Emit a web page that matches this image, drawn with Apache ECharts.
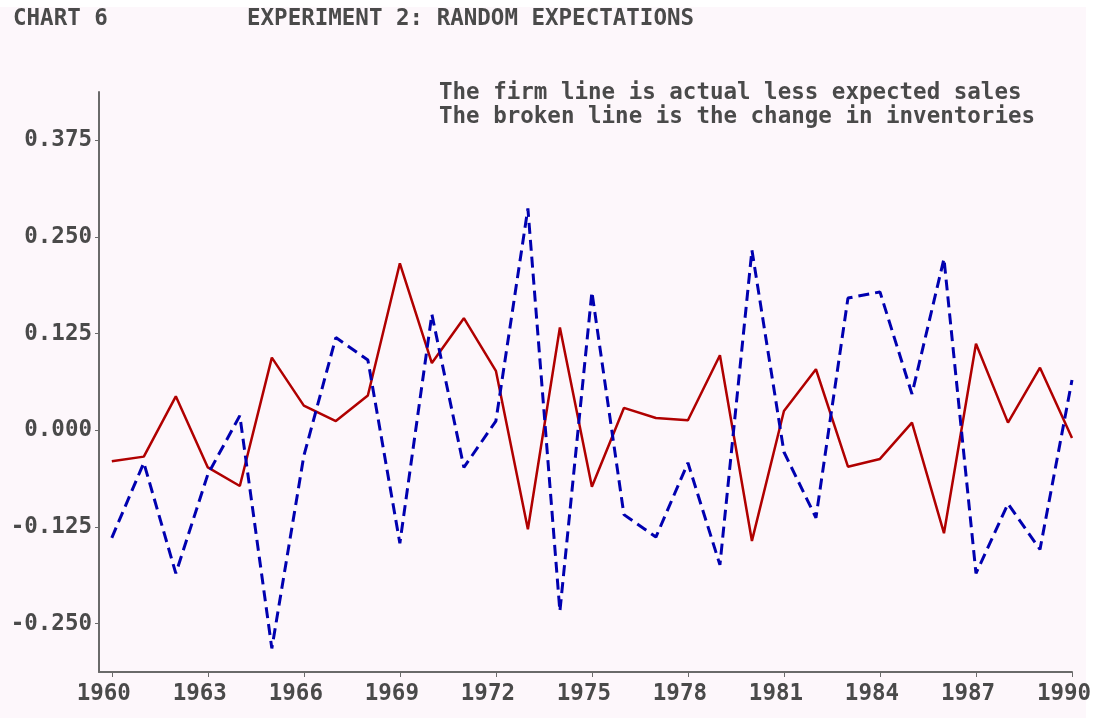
<!DOCTYPE html>
<html>
<head>
<meta charset="utf-8">
<script src="https://cdn.jsdelivr.net/npm/echarts@6/dist/echarts.min.js"></script>
<style>
  html, body { margin: 0; padding: 0; background: #ffffff; }
  #chart { width: 1098px; height: 720px; }
</style>
</head>
<body>
<div id="chart"></div>
<script>
  // years 1960..1990
  var years = [1960, 1961, 1962, 1963, 1964, 1965, 1966, 1967, 1968, 1969,
    1970, 1971, 1972, 1973, 1974, 1975, 1976, 1977, 1978, 1979,
    1980, 1981, 1982, 1983, 1984, 1985, 1986, 1987, 1988, 1989, 1990];

  // firm line: actual less expected sales
  var firmLine = [-0.040, -0.034, 0.044, -0.048, -0.072, 0.094, 0.032, 0.012, 0.045, 0.216,
    0.087, 0.145, 0.077, -0.128, 0.133, -0.073, 0.029, 0.016, 0.013, 0.097,
    -0.143, 0.025, 0.079, -0.047, -0.037, 0.010, -0.133, 0.112, 0.010, 0.081, -0.010];

  // broken line: change in inventories
  var brokenLine = [-0.139, -0.042, -0.185, -0.057, 0.019, -0.282, -0.033, 0.120, 0.091, -0.146,
    0.150, -0.048, 0.012, 0.287, -0.234, 0.179, -0.109, -0.138, -0.042, -0.174,
    0.233, -0.028, -0.113, 0.171, 0.179, 0.047, 0.222, -0.185, -0.095, -0.154, 0.065];

  var xTicks = [1960, 1963, 1966, 1969, 1972, 1975, 1978, 1981, 1984, 1987, 1990];
  var yTicks = [-0.25, -0.125, 0, 0.125, 0.25, 0.375];

  var font = '"DejaVu Sans Mono", monospace';
  var textColor = '#4a4a4a';
  var fs = 22.5;

  function pairs(vals) {
    return years.map(function (y, i) { return [y, vals[i]]; });
  }

  var chart = echarts.init(document.getElementById('chart'));
  chart.setOption({
    backgroundColor: '#ffffff',
    animation: false,
    graphic: [{
      type: 'rect',
      z: -10,
      silent: true,
      shape: { x: 0, y: 7, width: 1086, height: 711 },
      style: { fill: '#fdf7fb' }
    }],
    title: [{
      text: 'CHART 6',
      left: 8, top: 3,
      textStyle: { fontFamily: font, fontSize: fs, fontWeight: 'bold', color: textColor }
    }, {
      text: 'EXPERIMENT 2: RANDOM EXPECTATIONS',
      left: 242, top: 3,
      textStyle: { fontFamily: font, fontSize: fs, fontWeight: 'bold', color: textColor }
    }, {
      text: 'The firm line is actual less expected sales\nThe broken line is the change in inventories',
      left: 434, top: 76,
      textStyle: { fontFamily: font, fontSize: fs, fontWeight: 'bold', color: textColor, lineHeight: 24 }
    }],
    grid: { left: 99, right: 26, top: 92, bottom: 48 },
    xAxis: {
      type: 'value',
      min: 1959.6,
      max: 1990,
      splitLine: { show: false },
      axisLine: { show: true, onZero: false, lineStyle: { color: '#6a6a6a', width: 2 } },
      axisTick: { show: true, length: 5, customValues: xTicks, lineStyle: { color: '#6a6a6a', width: 1 } },
      axisLabel: {
        customValues: xTicks,
        margin: 11,
        padding: [0, 16, 0, 0],
        fontFamily: font, fontSize: fs, fontWeight: 'bold', color: textColor,
        formatter: function (v) { return String(v); }
      }
    },
    yAxis: {
      type: 'value',
      min: -0.3125,
      max: 0.4375,
      splitLine: { show: false },
      axisLine: { show: true, onZero: false, lineStyle: { color: '#6a6a6a', width: 2 } },
      axisTick: { show: true, length: 4, customValues: yTicks, lineStyle: { color: '#6a6a6a', width: 1 } },
      axisLabel: {
        customValues: yTicks,
        margin: 7,
        fontFamily: font, fontSize: fs, fontWeight: 'bold', color: textColor,
        formatter: function (v) { return v.toFixed(3); }
      }
    },
    series: [{
      name: 'firm',
      type: 'line',
      data: pairs(firmLine),
      symbol: 'none',
      lineStyle: { color: '#b00000', width: 2.5, type: 'solid' }
    }, {
      name: 'broken',
      type: 'line',
      data: pairs(brokenLine),
      symbol: 'none',
      lineStyle: { color: '#0000b0', width: 3, type: [11, 6] }
    }]
  });
</script>
</body>
</html>
